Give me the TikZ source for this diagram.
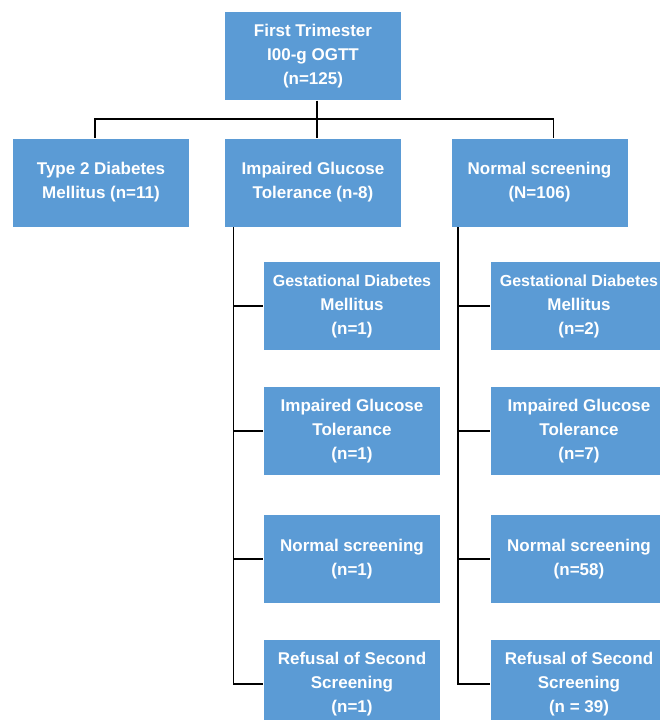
\documentclass[tikz,border=0pt]{standalone}
\usepackage{fontspec}
\setmainfont{Liberation Sans}
\usepackage{tikz}

\definecolor{boxblue}{HTML}{5B9BD5}
\newcommand{\gdmline}{{\fontsize{16}{24}\selectfont Gestational Diabetes}}

\begin{document}
\begin{tikzpicture}[x=1pt,y=-1pt,line width=1.2pt,
  box/.style={rectangle,fill=boxblue,text=white,align=center,inner sep=0pt,
    minimum width=176pt,minimum height=88pt,
    font=\fontsize{17}{24}\selectfont\bfseries}]

\useasboundingbox (0,0) rectangle (659,720);

\node[box] (top) at (313,56) {First Trimester\\I00-g OGTT\\(n=125)};
\node[box] (t2dm) at (101,182.5) {Type 2 Diabetes\\Mellitus (n=11)};
\node[box] (igt) at (313,182.5) {Impaired Glucose\\Tolerance (n-8)};
\node[box] (ns) at (539.5,182.5) {Normal screening\\(N=106)};

\node[box] (igt_1) at (352,306) {\gdmline\\Mellitus\\(n=1)};
\node[box] (igt_2) at (352,431) {Impaired Glucose\\Tolerance\\(n=1)};
\node[box] (igt_3) at (352,559) {Normal screening\\(n=1)};
\node[box] (igt_4) at (352,684) {Refusal of Second\\Screening\\(n=1)};

\node[box] (ns_1) at (579,306) {\gdmline\\Mellitus\\(n=2)};
\node[box] (ns_2) at (579,431) {Impaired Glucose\\Tolerance\\(n=7)};
\node[box] (ns_3) at (579,559) {Normal screening\\(n=58)};
\node[box] (ns_4) at (579,684) {Refusal of Second\\Screening\\(n = 39)};

\coordinate (bar) at (317,119);

\draw ([xshift=4pt]top.south) -- ([xshift=4pt]igt.north);
\draw ([xshift=-6pt]t2dm.north) |- (bar) -| ([xshift=14pt]ns.north);

\foreach \c in {igt_1,igt_2,igt_3,igt_4}
  \draw ([xshift=9pt]igt.south west) |- (\c.west);
\foreach \c in {ns_1,ns_2,ns_3,ns_4}
  \draw ([xshift=7pt]ns.south west) |- (\c.west);

\end{tikzpicture}
\end{document}
